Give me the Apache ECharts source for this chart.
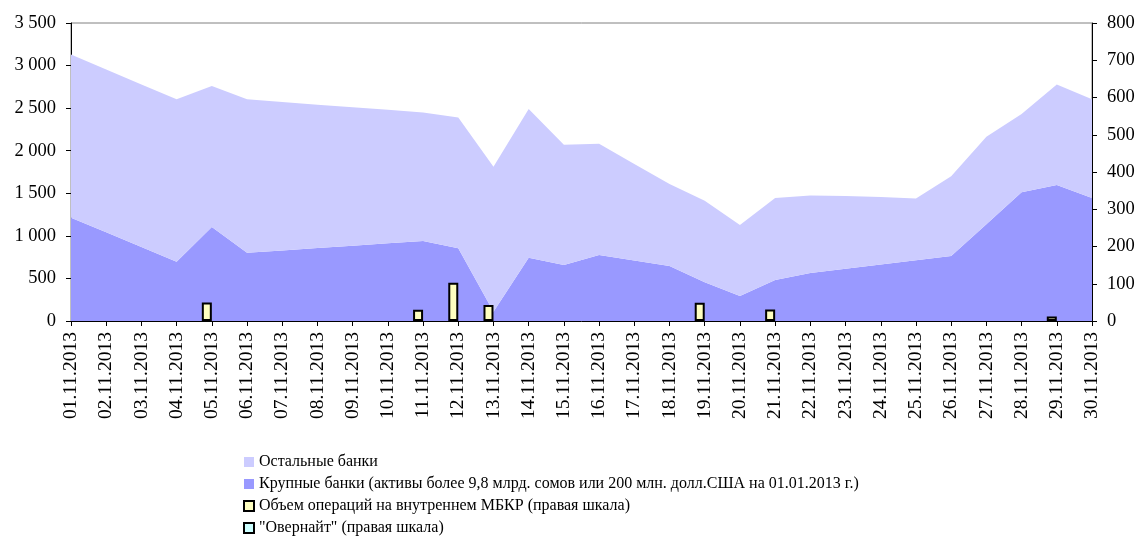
<!DOCTYPE html>
<html>
<head>
<meta charset="utf-8">
<script src="https://cdn.jsdelivr.net/npm/echarts@6/dist/echarts.min.js"></script>
<style>
html, body { margin: 0; padding: 0; background: #fff; }
#chart { width: 1138px; height: 541px; }
</style>
</head>
<body>
<div id="chart"></div>
<script>
var dates = ['01.11.2013','02.11.2013','03.11.2013','04.11.2013','05.11.2013','06.11.2013',
	'07.11.2013','08.11.2013','09.11.2013','10.11.2013','11.11.2013','12.11.2013','13.11.2013',
	'14.11.2013','15.11.2013','16.11.2013','17.11.2013','18.11.2013','19.11.2013','20.11.2013',
	'21.11.2013','22.11.2013','23.11.2013','24.11.2013','25.11.2013','26.11.2013','27.11.2013',
	'28.11.2013','29.11.2013','30.11.2013'];

// крупные банки (нижняя область, левая шкала)
var bigBanks = [1213, 1041, 868, 696, 1104, 802, 829, 857, 884, 912, 939, 853, 110, 742, 657,
	775, 710, 646, 455, 294, 481, 565, 615, 664, 714, 763, 1137, 1511, 1597, 1444];
// остальные банки (верхняя область, левая шкала)
var otherBanks = [1918, 1914, 1911, 1907, 1655, 1801, 1742, 1683, 1626, 1568, 1511, 1538, 1702, 1747, 1413,
	1307, 1135, 962, 957, 833, 963, 910, 852, 792, 726, 936, 1027, 919, 1182, 1159];
// объем операций МБКР (правая шкала)
var mbkr = ['-', '-', '-', '-', 50, '-', '-', '-', '-', '-', 30, 103, 43, '-', '-',
	'-', '-', '-', 49, '-', 31, '-', '-', '-', '-', '-', '-', '-', 12, '-'];
// овернайт (правая шкала)
var overnight = ['-', '-', '-', '-', '-', '-', '-', '-', '-', '-', '-', '-', '-', '-', '-',
	'-', '-', '-', '-', '-', '-', '-', '-', '-', '-', '-', '-', '-', '-', '-'];

var names = ['Остальные банки',
	'Крупные банки (активы более 9,8 млрд. сомов или 200 млн. долл.США на 01.01.2013 г.)',
	'Объем операций на внутреннем МБКР (правая шкала)',
	'"Овернайт" (правая шкала)'];

var font = 'Liberation Serif';

function fmt(v) {
	if (v >= 1000) {
		var r = String(v % 1000);
		while (r.length < 3) r = '0' + r;
		return Math.floor(v / 1000) + ' ' + r;
	}
	return String(v);
}

// half a category step, so the bar grid puts its band centres on the area ticks
var half = (1138 - 71 - 46) / (dates.length - 1) / 2;

var chart = echarts.init(document.getElementById('chart'), null, {renderer: 'canvas'});
chart.setOption({
	animation: false,
	grid: [{
		left: 71, right: 46, top: 23, bottom: 220,
		show: true, borderColor: '#808080', borderWidth: 1
	}, {
		left: 71 - half, right: 46 - half, top: 23, bottom: 220
	}],
	legend: {
		orient: 'vertical',
		left: 243, top: 454, padding: 0,
		itemWidth: 10, itemHeight: 10, itemGap: 6,
		textStyle: {fontFamily: font, fontSize: 16, color: '#000', lineHeight: 16},
		data: [
			{name: names[0], icon: 'rect', itemStyle: {color: '#CCCCFF', borderWidth: 0}},
			{name: names[1], icon: 'rect', itemStyle: {color: '#9999FF', borderWidth: 0}},
			{name: names[2], icon: 'rect', itemStyle: {color: '#FFFFC0', borderColor: '#000', borderWidth: 2}},
			{name: names[3], icon: 'rect', itemStyle: {color: '#CCFFFF', borderColor: '#000', borderWidth: 2}}
		]
	},
	xAxis: [{
		type: 'category',
		data: dates,
		boundaryGap: false,
		axisLine: {lineStyle: {color: '#000', width: 1}},
		axisTick: {show: true, length: 5, lineStyle: {color: '#000'}},
		axisLabel: {rotate: 90, interval: 0, margin: 11, fontFamily: font, fontSize: 19.5, color: '#000'},
		splitLine: {show: false}
	}, {
		type: 'category',
		gridIndex: 1,
		data: dates,
		boundaryGap: true,
		show: false
	}],
	yAxis: [{
		type: 'value',
		min: 0, max: 3500, interval: 500,
		axisLine: {show: true, lineStyle: {color: '#000', width: 1}},
		axisTick: {show: true, length: 5, lineStyle: {color: '#000'}},
		axisLabel: {formatter: fmt, margin: 15, fontFamily: font, fontSize: 18.5, color: '#000'},
		splitLine: {show: false}
	}, {
		type: 'value',
		min: 0, max: 800, interval: 100,
		axisLine: {show: true, lineStyle: {color: '#000', width: 1}},
		axisTick: {show: true, length: 5, lineStyle: {color: '#000'}},
		axisLabel: {margin: 15, fontFamily: font, fontSize: 18.5, color: '#000'},
		splitLine: {show: false}
	}, {
		type: 'value',
		gridIndex: 1,
		min: 0, max: 800,
		show: false,
		splitLine: {show: false}
	}],
	series: [{
		name: names[1],
		type: 'line',
		stack: 'banks',
		data: bigBanks,
		symbol: 'none',
		lineStyle: {width: 0, color: '#9999FF'},
		itemStyle: {color: '#9999FF'},
		areaStyle: {color: '#9999FF', opacity: 1}
	}, {
		name: names[0],
		type: 'line',
		stack: 'banks',
		data: otherBanks,
		symbol: 'none',
		lineStyle: {width: 0, color: '#CCCCFF'},
		itemStyle: {color: '#CCCCFF'},
		areaStyle: {color: '#CCCCFF', opacity: 1}
	}, {
		name: names[2],
		type: 'bar',
		xAxisIndex: 1,
		yAxisIndex: 2,
		data: mbkr,
		barWidth: 10,
		barGap: '0%',
		z: 5,
		itemStyle: {color: '#FFFFC0', borderColor: '#000', borderWidth: 2}
	}, {
		name: names[3],
		type: 'bar',
		xAxisIndex: 1,
		yAxisIndex: 2,
		data: overnight,
		barWidth: 10,
		barGap: '0%',
		z: 5,
		itemStyle: {color: '#CCFFFF', borderColor: '#000', borderWidth: 2}
	}]
});
</script>
</body>
</html>
